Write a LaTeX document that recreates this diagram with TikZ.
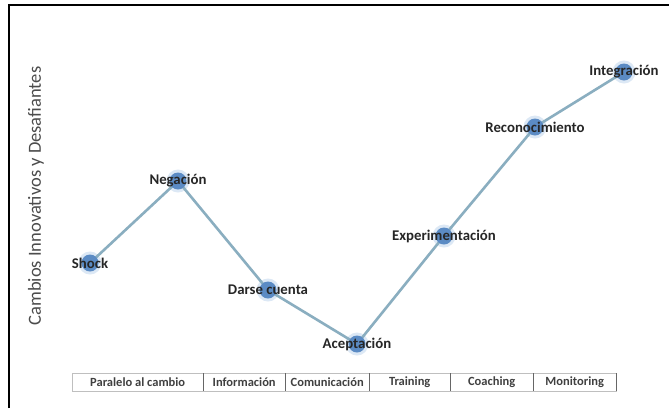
\documentclass[tikz,border=0pt]{standalone}
\usepackage{fontspec}
\setmainfont{Carlito}
\begin{document}
\begin{tikzpicture}[x=1pt,y=-1pt,
  lbl/.style={font=\bfseries\fontsize{14.8}{16}\selectfont, text=black!85, inner sep=0pt},
  link/.style={draw=linecol, line width=2.6pt},
  cell/.style={draw=black!25, minimum height=18pt, inner sep=0pt, font=\bfseries\fontsize{12.5}{14}\selectfont, text=black!75},
  halo/.style={circle, fill=haloc, minimum size=23pt, inner sep=0pt},
  dot/.style={circle, fill=ptcol, minimum size=17pt, inner sep=0pt}
]
\definecolor{linecol}{HTML}{8AAEC0}
\definecolor{ptcol}{HTML}{5B8BC4}
\definecolor{haloc}{HTML}{DCE8F5}
\fill[white] (0,0) rectangle (669,408);
\useasboundingbox (0,0) rectangle (669,408);
\draw[line width=2.2pt, black] (9,408) -- (9,5) -- (669,5);

% axis label
\node[rotate=90, font=\fontsize{18.5}{20}\selectfont, text=black!70] (ylab) at (36,196) {Cambios Innovativos y Desafiantes};

% points
\foreach \n/\x/\y in {s1/90/263, s2/178/181, s3/268/290, s4/357/344, s5/444/236, s6/535/127, s7/624/72}{
  \coordinate (\n) at (\x,\y);
  \node[halo] (h\n) at (\n) {};
}
\draw[link] (s1) -- (s2) -- (s3) -- (s4) -- (s5) -- (s6) -- (s7);
\foreach \n/\t in {s1/Shock, s2/Negación, s3/Darse cuenta, s4/Aceptación, s5/Experimentación, s6/Reconocimiento, s7/Integración}{
  \node[dot] (p\n) at (\n) {};
  \node[lbl] (l\n) at (\n) {\t};
}

% table
\node[cell, minimum width=131pt, anchor=north west] (c1) at (72,373) {Paralelo al cambio};
\node[cell, minimum width=82pt, anchor=north west] (c2) at (203,373) {Información};
\node[cell, minimum width=84pt, anchor=north west] (c3) at (285,373) {Comunicación};
\node[cell, minimum width=81pt, anchor=north west] (c4) at (369,373) {Training};
\node[cell, minimum width=83pt, anchor=north west] (c5) at (450,373) {Coaching};
\node[cell, minimum width=83pt, anchor=north west] (c6) at (533,373) {Monitoring};
\foreach \c in {c2,c3,c4,c5,c6}{
  \draw[black!60, line width=0.9pt] (\c.north west) -- (\c.south west);
}
\draw[black!60, line width=0.9pt] (c6.north east) -- (c6.south east);
\end{tikzpicture}
\end{document}
